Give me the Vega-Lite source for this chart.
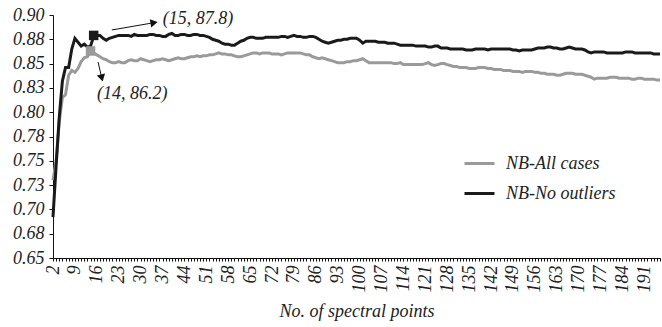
{
  "$schema": "https://vega.github.io/schema/vega-lite/v6.json",
  "width": 607,
  "height": 243,
  "autosize": {"type": "none"},
  "padding": {"left": 53, "top": 15, "right": 2, "bottom": 69},
  "background": "white",
  "config": {
    "view": {"stroke": null},
    "font": "Liberation Serif",
    "axis": {"labelFont": "Liberation Serif", "labelFontStyle": "italic", "labelFontSize": 18, "labelColor": "#222222", "titleFont": "Liberation Serif", "titleFontStyle": "italic", "titleFontWeight": "normal", "titleFontSize": 18, "titleColor": "#222222", "domainColor": "#111111", "tickColor": "#111111", "grid": false}
  },
  "datasets": {
    "acc": [
      {"n":2,"NB-All cases":0.730,"NB-No outliers":0.692},
      {"n":3,"NB-All cases":0.750,"NB-No outliers":0.745},
      {"n":4,"NB-All cases":0.790,"NB-No outliers":0.795},
      {"n":5,"NB-All cases":0.815,"NB-No outliers":0.832},
      {"n":6,"NB-All cases":0.818,"NB-No outliers":0.846},
      {"n":7,"NB-All cases":0.838,"NB-No outliers":0.846},
      {"n":8,"NB-All cases":0.843,"NB-No outliers":0.865},
      {"n":9,"NB-All cases":0.841,"NB-No outliers":0.876},
      {"n":10,"NB-All cases":0.845,"NB-No outliers":0.872},
      {"n":11,"NB-All cases":0.852,"NB-No outliers":0.868},
      {"n":12,"NB-All cases":0.856,"NB-No outliers":0.870},
      {"n":13,"NB-All cases":0.857,"NB-No outliers":0.867},
      {"n":14,"NB-All cases":0.862,"NB-No outliers":0.868},
      {"n":15,"NB-All cases":0.861,"NB-No outliers":0.878},
      {"n":16,"NB-All cases":0.859,"NB-No outliers":0.879},
      {"n":17,"NB-All cases":0.857,"NB-No outliers":0.879},
      {"n":18,"NB-All cases":0.855,"NB-No outliers":0.876},
      {"n":19,"NB-All cases":0.854,"NB-No outliers":0.874},
      {"n":20,"NB-All cases":0.852,"NB-No outliers":0.876},
      {"n":21,"NB-All cases":0.851,"NB-No outliers":0.877},
      {"n":22,"NB-All cases":0.851,"NB-No outliers":0.878},
      {"n":23,"NB-All cases":0.852,"NB-No outliers":0.879},
      {"n":24,"NB-All cases":0.851,"NB-No outliers":0.879},
      {"n":25,"NB-All cases":0.851,"NB-No outliers":0.879},
      {"n":26,"NB-All cases":0.853,"NB-No outliers":0.879},
      {"n":27,"NB-All cases":0.854,"NB-No outliers":0.878},
      {"n":28,"NB-All cases":0.853,"NB-No outliers":0.880},
      {"n":29,"NB-All cases":0.853,"NB-No outliers":0.879},
      {"n":30,"NB-All cases":0.855,"NB-No outliers":0.879},
      {"n":31,"NB-All cases":0.854,"NB-No outliers":0.879},
      {"n":32,"NB-All cases":0.853,"NB-No outliers":0.879},
      {"n":33,"NB-All cases":0.852,"NB-No outliers":0.880},
      {"n":34,"NB-All cases":0.853,"NB-No outliers":0.880},
      {"n":35,"NB-All cases":0.854,"NB-No outliers":0.879},
      {"n":36,"NB-All cases":0.854,"NB-No outliers":0.879},
      {"n":37,"NB-All cases":0.855,"NB-No outliers":0.878},
      {"n":38,"NB-All cases":0.854,"NB-No outliers":0.878},
      {"n":39,"NB-All cases":0.853,"NB-No outliers":0.880},
      {"n":40,"NB-All cases":0.854,"NB-No outliers":0.881},
      {"n":41,"NB-All cases":0.855,"NB-No outliers":0.879},
      {"n":42,"NB-All cases":0.856,"NB-No outliers":0.879},
      {"n":43,"NB-All cases":0.855,"NB-No outliers":0.880},
      {"n":44,"NB-All cases":0.855,"NB-No outliers":0.880},
      {"n":45,"NB-All cases":0.856,"NB-No outliers":0.879},
      {"n":46,"NB-All cases":0.857,"NB-No outliers":0.879},
      {"n":47,"NB-All cases":0.857,"NB-No outliers":0.880},
      {"n":48,"NB-All cases":0.858,"NB-No outliers":0.880},
      {"n":49,"NB-All cases":0.857,"NB-No outliers":0.879},
      {"n":50,"NB-All cases":0.858,"NB-No outliers":0.879},
      {"n":51,"NB-All cases":0.858,"NB-No outliers":0.878},
      {"n":52,"NB-All cases":0.859,"NB-No outliers":0.877},
      {"n":53,"NB-All cases":0.859,"NB-No outliers":0.875},
      {"n":54,"NB-All cases":0.860,"NB-No outliers":0.874},
      {"n":55,"NB-All cases":0.861,"NB-No outliers":0.873},
      {"n":56,"NB-All cases":0.860,"NB-No outliers":0.871},
      {"n":57,"NB-All cases":0.860,"NB-No outliers":0.870},
      {"n":58,"NB-All cases":0.859,"NB-No outliers":0.870},
      {"n":59,"NB-All cases":0.859,"NB-No outliers":0.869},
      {"n":60,"NB-All cases":0.858,"NB-No outliers":0.869},
      {"n":61,"NB-All cases":0.857,"NB-No outliers":0.871},
      {"n":62,"NB-All cases":0.857,"NB-No outliers":0.873},
      {"n":63,"NB-All cases":0.858,"NB-No outliers":0.874},
      {"n":64,"NB-All cases":0.859,"NB-No outliers":0.876},
      {"n":65,"NB-All cases":0.860,"NB-No outliers":0.877},
      {"n":66,"NB-All cases":0.861,"NB-No outliers":0.877},
      {"n":67,"NB-All cases":0.861,"NB-No outliers":0.876},
      {"n":68,"NB-All cases":0.860,"NB-No outliers":0.876},
      {"n":69,"NB-All cases":0.861,"NB-No outliers":0.876},
      {"n":70,"NB-All cases":0.861,"NB-No outliers":0.877},
      {"n":71,"NB-All cases":0.861,"NB-No outliers":0.877},
      {"n":72,"NB-All cases":0.860,"NB-No outliers":0.877},
      {"n":73,"NB-All cases":0.860,"NB-No outliers":0.877},
      {"n":74,"NB-All cases":0.860,"NB-No outliers":0.877},
      {"n":75,"NB-All cases":0.859,"NB-No outliers":0.878},
      {"n":76,"NB-All cases":0.860,"NB-No outliers":0.878},
      {"n":77,"NB-All cases":0.861,"NB-No outliers":0.877},
      {"n":78,"NB-All cases":0.861,"NB-No outliers":0.878},
      {"n":79,"NB-All cases":0.861,"NB-No outliers":0.879},
      {"n":80,"NB-All cases":0.861,"NB-No outliers":0.878},
      {"n":81,"NB-All cases":0.861,"NB-No outliers":0.878},
      {"n":82,"NB-All cases":0.860,"NB-No outliers":0.877},
      {"n":83,"NB-All cases":0.859,"NB-No outliers":0.877},
      {"n":84,"NB-All cases":0.859,"NB-No outliers":0.878},
      {"n":85,"NB-All cases":0.857,"NB-No outliers":0.878},
      {"n":86,"NB-All cases":0.856,"NB-No outliers":0.877},
      {"n":87,"NB-All cases":0.855,"NB-No outliers":0.875},
      {"n":88,"NB-All cases":0.856,"NB-No outliers":0.873},
      {"n":89,"NB-All cases":0.855,"NB-No outliers":0.872},
      {"n":90,"NB-All cases":0.854,"NB-No outliers":0.871},
      {"n":91,"NB-All cases":0.853,"NB-No outliers":0.872},
      {"n":92,"NB-All cases":0.852,"NB-No outliers":0.873},
      {"n":93,"NB-All cases":0.851,"NB-No outliers":0.874},
      {"n":94,"NB-All cases":0.851,"NB-No outliers":0.874},
      {"n":95,"NB-All cases":0.851,"NB-No outliers":0.875},
      {"n":96,"NB-All cases":0.852,"NB-No outliers":0.875},
      {"n":97,"NB-All cases":0.852,"NB-No outliers":0.876},
      {"n":98,"NB-All cases":0.853,"NB-No outliers":0.876},
      {"n":99,"NB-All cases":0.853,"NB-No outliers":0.876},
      {"n":100,"NB-All cases":0.854,"NB-No outliers":0.874},
      {"n":101,"NB-All cases":0.855,"NB-No outliers":0.871},
      {"n":102,"NB-All cases":0.853,"NB-No outliers":0.873},
      {"n":103,"NB-All cases":0.851,"NB-No outliers":0.873},
      {"n":104,"NB-All cases":0.851,"NB-No outliers":0.873},
      {"n":105,"NB-All cases":0.851,"NB-No outliers":0.873},
      {"n":106,"NB-All cases":0.851,"NB-No outliers":0.872},
      {"n":107,"NB-All cases":0.851,"NB-No outliers":0.872},
      {"n":108,"NB-All cases":0.851,"NB-No outliers":0.872},
      {"n":109,"NB-All cases":0.851,"NB-No outliers":0.871},
      {"n":110,"NB-All cases":0.851,"NB-No outliers":0.871},
      {"n":111,"NB-All cases":0.850,"NB-No outliers":0.871},
      {"n":112,"NB-All cases":0.850,"NB-No outliers":0.870},
      {"n":113,"NB-All cases":0.851,"NB-No outliers":0.869},
      {"n":114,"NB-All cases":0.849,"NB-No outliers":0.869},
      {"n":115,"NB-All cases":0.849,"NB-No outliers":0.869},
      {"n":116,"NB-All cases":0.849,"NB-No outliers":0.869},
      {"n":117,"NB-All cases":0.849,"NB-No outliers":0.869},
      {"n":118,"NB-All cases":0.849,"NB-No outliers":0.868},
      {"n":119,"NB-All cases":0.849,"NB-No outliers":0.868},
      {"n":120,"NB-All cases":0.849,"NB-No outliers":0.868},
      {"n":121,"NB-All cases":0.850,"NB-No outliers":0.868},
      {"n":122,"NB-All cases":0.851,"NB-No outliers":0.867},
      {"n":123,"NB-All cases":0.849,"NB-No outliers":0.867},
      {"n":124,"NB-All cases":0.848,"NB-No outliers":0.868},
      {"n":125,"NB-All cases":0.849,"NB-No outliers":0.868},
      {"n":126,"NB-All cases":0.850,"NB-No outliers":0.866},
      {"n":127,"NB-All cases":0.850,"NB-No outliers":0.866},
      {"n":128,"NB-All cases":0.849,"NB-No outliers":0.866},
      {"n":129,"NB-All cases":0.848,"NB-No outliers":0.865},
      {"n":130,"NB-All cases":0.847,"NB-No outliers":0.865},
      {"n":131,"NB-All cases":0.847,"NB-No outliers":0.865},
      {"n":132,"NB-All cases":0.846,"NB-No outliers":0.865},
      {"n":133,"NB-All cases":0.846,"NB-No outliers":0.865},
      {"n":134,"NB-All cases":0.846,"NB-No outliers":0.864},
      {"n":135,"NB-All cases":0.845,"NB-No outliers":0.864},
      {"n":136,"NB-All cases":0.845,"NB-No outliers":0.864},
      {"n":137,"NB-All cases":0.845,"NB-No outliers":0.865},
      {"n":138,"NB-All cases":0.846,"NB-No outliers":0.865},
      {"n":139,"NB-All cases":0.846,"NB-No outliers":0.865},
      {"n":140,"NB-All cases":0.846,"NB-No outliers":0.865},
      {"n":141,"NB-All cases":0.845,"NB-No outliers":0.864},
      {"n":142,"NB-All cases":0.845,"NB-No outliers":0.865},
      {"n":143,"NB-All cases":0.844,"NB-No outliers":0.865},
      {"n":144,"NB-All cases":0.844,"NB-No outliers":0.865},
      {"n":145,"NB-All cases":0.844,"NB-No outliers":0.865},
      {"n":146,"NB-All cases":0.843,"NB-No outliers":0.865},
      {"n":147,"NB-All cases":0.843,"NB-No outliers":0.865},
      {"n":148,"NB-All cases":0.843,"NB-No outliers":0.865},
      {"n":149,"NB-All cases":0.842,"NB-No outliers":0.864},
      {"n":150,"NB-All cases":0.842,"NB-No outliers":0.864},
      {"n":151,"NB-All cases":0.842,"NB-No outliers":0.863},
      {"n":152,"NB-All cases":0.841,"NB-No outliers":0.864},
      {"n":153,"NB-All cases":0.842,"NB-No outliers":0.864},
      {"n":154,"NB-All cases":0.842,"NB-No outliers":0.864},
      {"n":155,"NB-All cases":0.842,"NB-No outliers":0.864},
      {"n":156,"NB-All cases":0.841,"NB-No outliers":0.865},
      {"n":157,"NB-All cases":0.841,"NB-No outliers":0.866},
      {"n":158,"NB-All cases":0.840,"NB-No outliers":0.866},
      {"n":159,"NB-All cases":0.840,"NB-No outliers":0.866},
      {"n":160,"NB-All cases":0.839,"NB-No outliers":0.867},
      {"n":161,"NB-All cases":0.839,"NB-No outliers":0.867},
      {"n":162,"NB-All cases":0.839,"NB-No outliers":0.866},
      {"n":163,"NB-All cases":0.838,"NB-No outliers":0.866},
      {"n":164,"NB-All cases":0.838,"NB-No outliers":0.865},
      {"n":165,"NB-All cases":0.839,"NB-No outliers":0.865},
      {"n":166,"NB-All cases":0.840,"NB-No outliers":0.866},
      {"n":167,"NB-All cases":0.840,"NB-No outliers":0.867},
      {"n":168,"NB-All cases":0.840,"NB-No outliers":0.866},
      {"n":169,"NB-All cases":0.839,"NB-No outliers":0.865},
      {"n":170,"NB-All cases":0.839,"NB-No outliers":0.865},
      {"n":171,"NB-All cases":0.839,"NB-No outliers":0.865},
      {"n":172,"NB-All cases":0.838,"NB-No outliers":0.864},
      {"n":173,"NB-All cases":0.837,"NB-No outliers":0.862},
      {"n":174,"NB-All cases":0.836,"NB-No outliers":0.861},
      {"n":175,"NB-All cases":0.834,"NB-No outliers":0.862},
      {"n":176,"NB-All cases":0.835,"NB-No outliers":0.862},
      {"n":177,"NB-All cases":0.835,"NB-No outliers":0.862},
      {"n":178,"NB-All cases":0.835,"NB-No outliers":0.862},
      {"n":179,"NB-All cases":0.835,"NB-No outliers":0.861},
      {"n":180,"NB-All cases":0.836,"NB-No outliers":0.861},
      {"n":181,"NB-All cases":0.836,"NB-No outliers":0.861},
      {"n":182,"NB-All cases":0.836,"NB-No outliers":0.861},
      {"n":183,"NB-All cases":0.835,"NB-No outliers":0.861},
      {"n":184,"NB-All cases":0.835,"NB-No outliers":0.861},
      {"n":185,"NB-All cases":0.835,"NB-No outliers":0.862},
      {"n":186,"NB-All cases":0.835,"NB-No outliers":0.862},
      {"n":187,"NB-All cases":0.834,"NB-No outliers":0.862},
      {"n":188,"NB-All cases":0.834,"NB-No outliers":0.861},
      {"n":189,"NB-All cases":0.835,"NB-No outliers":0.861},
      {"n":190,"NB-All cases":0.835,"NB-No outliers":0.861},
      {"n":191,"NB-All cases":0.834,"NB-No outliers":0.861},
      {"n":192,"NB-All cases":0.834,"NB-No outliers":0.861},
      {"n":193,"NB-All cases":0.834,"NB-No outliers":0.861},
      {"n":194,"NB-All cases":0.834,"NB-No outliers":0.860},
      {"n":195,"NB-All cases":0.833,"NB-No outliers":0.860},
      {"n":196,"NB-All cases":0.833,"NB-No outliers":0.860}
    ]
  },
  "encoding": {
    "x": {
      "field": "n", "type": "quantitative",
      "scale": {"domain": [2, 196], "nice": false, "zero": false},
      "axis": {"title": "No. of spectral points", "tickCount": 194, "labelExpr": "(datum.value - 2) % 7 == 0 ? datum.label : ''", "labelAngle": -90, "labelOverlap": false, "labelFlush": false, "tickSize": 3, "labelPadding": 4, "titlePadding": 10, "labelFont": "Liberation Serif", "labelFontStyle": "italic", "labelFontSize": 18}
    },
    "y": {
      "field": "acc", "type": "quantitative",
      "scale": {"domain": [0.65, 0.9], "nice": false, "zero": false},
      "axis": {"title": null, "values": [0.65, 0.675, 0.7, 0.725, 0.75, 0.775, 0.8, 0.825, 0.85, 0.875, 0.9], "labelExpr": "format(round(datum.value * 100 + 0.01) / 100, '.2f')", "tickSize": 4, "labelPadding": 5, "labelFont": "Liberation Serif", "labelFontStyle": "italic", "labelFontSize": 18}
    }
  },
  "layer": [
    {
      "data": {"name": "acc"},
      "transform": [{"fold": ["NB-All cases", "NB-No outliers"], "as": ["series", "acc"]}],
      "mark": {"type": "line", "strokeWidth": 3, "strokeJoin": "miter"},
      "encoding": {
        "color": {
          "field": "series", "type": "nominal",
          "scale": {"domain": ["NB-All cases", "NB-No outliers"], "range": ["#9a9a9a", "#1a1a1a"]},
          "legend": {"title": null, "orient": "none", "legendX": 410, "legendY": 132, "symbolType": "stroke", "symbolSize": 900, "symbolStrokeWidth": 3, "labelFont": "Liberation Serif", "labelFontStyle": "italic", "labelFontSize": 18, "labelColor": "#222222", "labelOffset": 10, "rowPadding": 4, "padding": 0, "labelLimit": 0}
        }
      }
    },
    {
      "data": {"values": [{"n": 15, "acc": 0.879}]},
      "mark": {"type": "point", "shape": "square", "filled": true, "size": 90, "color": "#1a1a1a", "opacity": 1},
      "encoding": {}
    },
    {
      "data": {"values": [{"n": 14, "acc": 0.863}]},
      "mark": {"type": "point", "shape": "square", "filled": true, "size": 90, "color": "#9a9a9a", "opacity": 1},
      "encoding": {}
    },
    {
      "data": {"values": [{"n": 20.8, "acc": 0.8846, "n2": 34.3, "acc2": 0.8921}, {"n": 16.4, "acc": 0.8516, "n2": 17.6, "acc2": 0.8352}]},
      "mark": {"type": "rule", "color": "#111111", "strokeWidth": 1},
      "encoding": {"x2": {"field": "n2"}, "y2": {"field": "acc2"}}
    },
    {
      "data": {"values": [{"n": 34.3, "acc": 0.8921}]},
      "mark": {"type": "point", "shape": "triangle-up", "filled": true, "size": 70, "color": "#111111", "angle": 80, "opacity": 1},
      "encoding": {}
    },
    {
      "data": {"values": [{"n": 17.6, "acc": 0.8352}]},
      "mark": {"type": "point", "shape": "triangle-up", "filled": true, "size": 70, "color": "#111111", "angle": 166, "opacity": 1},
      "encoding": {}
    },
    {
      "data": {"values": [{"n": 37.1, "acc": 0.8959, "label": "(15, 87.8)"}, {"n": 16.1, "acc": 0.8187, "label": "(14, 86.2)"}]},
      "mark": {"type": "text", "align": "left", "baseline": "middle", "font": "Liberation Serif", "fontStyle": "italic", "fontSize": 18, "color": "#222222"},
      "encoding": {"text": {"field": "label"}}
    }
  ]
}
